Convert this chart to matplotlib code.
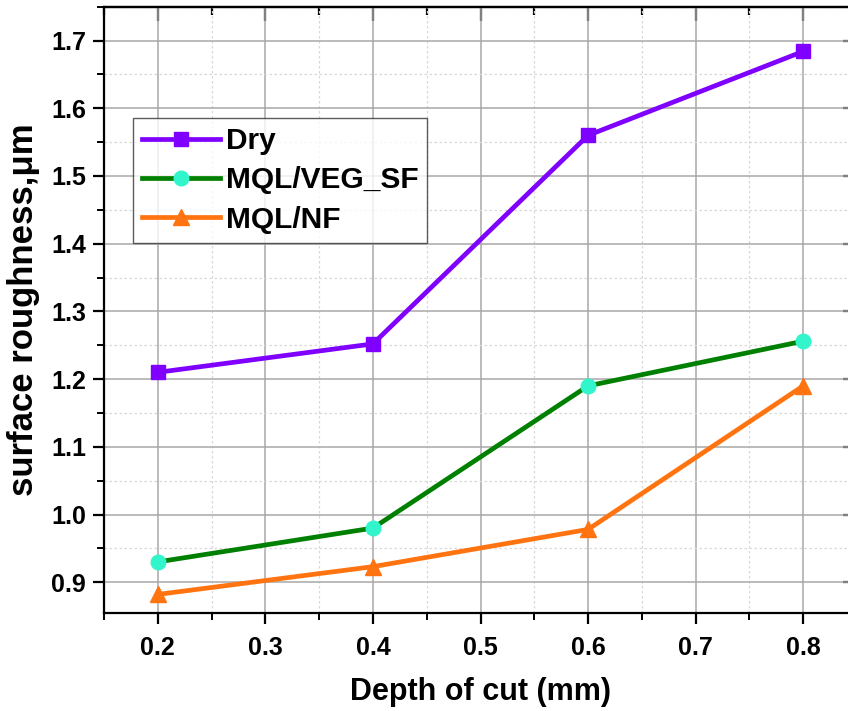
import matplotlib
matplotlib.use("Agg")
import matplotlib.pyplot as plt
from matplotlib.ticker import MultipleLocator

depth = [0.2, 0.4, 0.6, 0.8]
dry = [1.21, 1.252, 1.56, 1.684]
veg_sf = [0.93, 0.98, 1.19, 1.256]
nf = [0.882, 0.923, 0.978, 1.19]

x_ticks = [0.2, 0.3, 0.4, 0.5, 0.6, 0.7, 0.8]
y_ticks = [0.9, 1.0, 1.1, 1.2, 1.3, 1.4, 1.5, 1.6, 1.7]

plt.rcParams['font.family'] = ['Liberation Sans', 'DejaVu Sans']
plt.rcParams['font.weight'] = 'bold'

fig = plt.figure(figsize=(8.48, 7.11), dpi=100)
ax = fig.add_axes([104/848, (711-612.7)/711, (857-104)/848, (612.7-6.7)/711])

ax.plot(depth, dry, color='#7F00FF', lw=3.4, marker='s', ms=10, mfc='#7F00FF', mec='#7F00FF',
        label='Dry', zorder=5)
ax.plot(depth, veg_sf, color='#008000', lw=3.4, marker='o', ms=10.5, mfc='#33F5CC', mec='#33F5CC',
        label='MQL/VEG_SF', zorder=5)
ax.plot(depth, nf, color='#FF7410', lw=3.4, marker='^', ms=11, mfc='#FF7410', mec='#FF7410',
        label='MQL/NF', zorder=5)

ax.set_xlim(0.15, 0.85)
ax.set_ylim(0.855, 1.75)
ax.set_xticks(x_ticks)
ax.set_yticks(y_ticks)
ax.set_xticklabels([f"{v:.1f}" for v in x_ticks])
ax.set_yticklabels([f"{v:.1f}" for v in y_ticks])
ax.xaxis.set_minor_locator(MultipleLocator(0.05))
ax.yaxis.set_minor_locator(MultipleLocator(0.05))

ax.grid(which='major', color='#A8A8A8', lw=1.1, ls='-', zorder=0)
ax.grid(which='minor', color='#D8D8D8', lw=0.9, ls=(0, (2, 2)), zorder=0)
ax.set_axisbelow(True)

for s in ax.spines.values():
    s.set_linewidth(1.6)

ax.tick_params(which='major', direction='out', length=8, width=1.6, labelsize=18)
ax.tick_params(axis='x', which='major', pad=9)
ax.tick_params(axis='y', which='major', pad=5)
ax.tick_params(which='minor', direction='out', length=5, width=1.4)
for lab in ax.get_xticklabels() + ax.get_yticklabels():
    lab.set_fontweight('bold')

top = ax.secondary_xaxis('top')
top.set_xticks(x_ticks)
top.xaxis.set_minor_locator(MultipleLocator(0.05))
top.tick_params(which='both', direction='in', labeltop=False, width=1.6)
top.tick_params(which='major', length=10)
top.tick_params(which='minor', length=6)
top.spines['top'].set_linewidth(1.6)

right = ax.secondary_yaxis('right')
right.set_yticks(y_ticks)
right.yaxis.set_minor_locator(MultipleLocator(0.05))
right.tick_params(which='both', direction='in', labelright=False, width=1.6)
right.tick_params(which='major', length=10)
right.tick_params(which='minor', length=6)

ax.set_xlabel('Depth of cut (mm)', fontsize=22, fontweight='bold', labelpad=12)
ax.set_ylabel('surface roughness,μm', fontsize=25, fontweight='bold', labelpad=8)

leg = ax.legend(loc='upper left', bbox_to_anchor=((133-104)/753, 1-(118-6.7)/606),
                fontsize=21.5, frameon=True, fancybox=False, edgecolor='#333333',
                handlelength=2.6, handletextpad=0.2, borderpad=0.3, labelspacing=0.38,
                borderaxespad=0)
leg.get_frame().set_linewidth(1.0)
for t in leg.get_texts():
    t.set_fontweight('bold')

fig.savefig('out.png', dpi=100)
